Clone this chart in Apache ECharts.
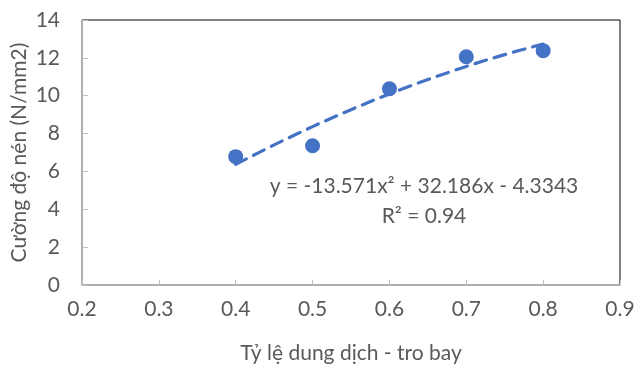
<!DOCTYPE html>
<html>
<head>
<meta charset="utf-8">
<script src="https://cdn.jsdelivr.net/npm/echarts@6/dist/echarts.min.js"></script>
<style>
  html, body { margin: 0; padding: 0; background: #fff; }
  #chart { width: 636px; height: 367px; }
</style>
</head>
<body>
<div id="chart"></div>
<script>
// Fly-ash solution ratio vs. compressive strength
const ratios = [0.4, 0.5, 0.6, 0.7, 0.8];
const strengths = [6.78, 7.36, 10.37, 12.06, 12.38];

// Polynomial trendline (order 2): y = a*x^2 + b*x + c
const trendCoefficients = [-13.571, 32.186, -4.3343];
const rSquared = 0.94;

const xTicks = [0.2, 0.3, 0.4, 0.5, 0.6, 0.7, 0.8, 0.9];
const yTicks = [0, 2, 4, 6, 8, 10, 12, 14];

const FONT = 'Lato';
const TEXT = '#595959';
const FS = 21;

const [a, b, c] = trendCoefficients;
const trend = [];
for (let i = 0; i <= 40; i++) {
  const x = ratios[0] + (ratios[ratios.length - 1] - ratios[0]) * i / 40;
  trend.push([x, a * x * x + b * x + c]);
}

const equation = 'y = ' + a + 'x² + ' + b + 'x ' + (c < 0 ? '- ' : '+ ') + Math.abs(c);

const chart = echarts.init(document.getElementById('chart'));
chart.setOption({
  animation: false,
  grid: {
    left: 82, right: 16, top: 20, bottom: 82,
    outerBoundsMode: 'none', containLabel: false,
    show: true, borderColor: '#000', borderWidth: 1, backgroundColor: '#fff'
  },
  xAxis: {
    type: 'value',
    min: xTicks[0], max: xTicks[xTicks.length - 1], interval: 0.1,
    name: 'Tỷ lệ dung dịch - tro bay',
    nameLocation: 'middle', nameGap: 58, nameMoveOverlap: false,
    nameTextStyle: { fontFamily: FONT, fontSize: FS, color: TEXT },
    axisLine: { show: true, lineStyle: { color: '#bfbfbf', width: 1.5 } },
    axisTick: { show: true, inside: true, length: 5, lineStyle: { color: '#bfbfbf' } },
    splitLine: { show: false },
    axisLabel: {
      fontFamily: FONT, fontSize: FS, color: TEXT, margin: 14,
      formatter: v => v.toFixed(1)
    }
  },
  yAxis: {
    type: 'value',
    min: yTicks[0], max: yTicks[yTicks.length - 1], interval: 2,
    name: 'Cường độ nén (N/mm2)',
    nameLocation: 'middle', nameGap: 52, nameMoveOverlap: false,
    nameTextStyle: { fontFamily: FONT, fontSize: FS, color: TEXT },
    axisLine: { show: true, lineStyle: { color: '#bfbfbf', width: 1.5 } },
    axisTick: { show: true, inside: true, length: 6, lineStyle: { color: '#bfbfbf' } },
    splitLine: { show: false },
    axisLabel: { fontFamily: FONT, fontSize: FS, color: TEXT, margin: 22 }
  },
  series: [
    {
      type: 'scatter',
      data: ratios.map((x, i) => [x, strengths[i]]),
      symbol: 'circle', symbolSize: 15,
      itemStyle: { color: '#4472C4', opacity: 1 },
      z: 2
    },
    {
      type: 'line',
      data: trend,
      showSymbol: false, symbol: 'none', smooth: false,
      lineStyle: { color: '#4472C4', width: 3.2, type: [12, 8], cap: 'round' },
      z: 3
    }
  ],
  graphic: [
    {
      type: 'text',
      x: 424, y: 171,
      style: {
        text: equation + '\nR² = ' + rSquared,
        fontFamily: FONT, fontSize: FS, fill: TEXT,
        align: 'center', verticalAlign: 'top', lineHeight: 30
      },
      z: 10
    }
  ]
});
</script>
</body>
</html>
